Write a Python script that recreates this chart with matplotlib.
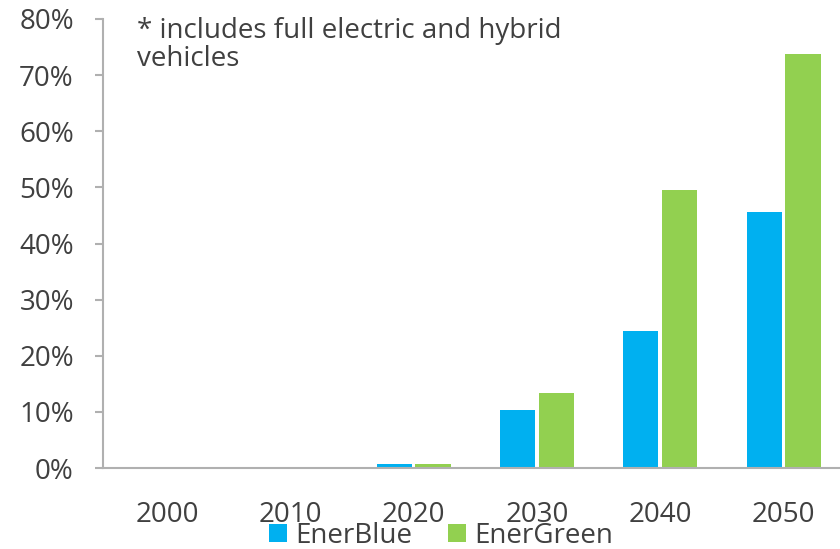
import matplotlib
matplotlib.use("Agg")
import matplotlib.pyplot as plt
import numpy as np

plt.rcParams['font.family'] = ['Open Sans', 'DejaVu Sans']

years = ["2000", "2010", "2020", "2030", "2040", "2050"]
ener_blue = [0.2, 0.2, 0.8, 10.3, 24.5, 45.7]
ener_green = [0.2, 0.2, 0.8, 13.3, 49.6, 73.8]
y_ticks = [0, 10, 20, 30, 40, 50, 60, 70, 80]

BLUE = "#00B0F0"
GREEN = "#92D050"
TEXT = "#404040"
AXIS = "#B0B0B0"
FS = 20

fig = plt.figure(figsize=(8.4, 5.49), dpi=100)
ax = fig.add_axes([0.1226, 0.1475, 1 - 0.1226, 0.9654 - 0.1475])

x = np.arange(len(years))
w = 0.285
gap = 0.015
ax.bar(x - w / 2 - gap, ener_blue, width=w, color=BLUE, label="EnerBlue")
ax.bar(x + w / 2 + gap, ener_green, width=w, color=GREEN, label="EnerGreen")

ax.set_xlim(-0.519, 5.458)
ax.set_ylim(0, 80)
ax.set_yticks(y_ticks)
ax.set_yticklabels([f"{v}%" for v in y_ticks])
ax.set_xticks(x)
ax.set_xticklabels(years)

for s in ("top", "right"):
    ax.spines[s].set_visible(False)
for s in ("left", "bottom"):
    ax.spines[s].set_color(AXIS)
    ax.spines[s].set_linewidth(1.5)

ax.tick_params(axis="y", length=6, width=1.5, color=AXIS, pad=15,
               labelsize=FS, labelcolor=TEXT)
ax.tick_params(axis="x", length=0, pad=24, labelsize=FS, labelcolor=TEXT)

ax.text(0.046, 1.005, "* includes full electric and hybrid\nvehicles",
        transform=ax.transAxes, ha="left", va="top", fontsize=FS,
        color=TEXT, linespacing=1.0)

fig.legend(loc="lower center", bbox_to_anchor=(0.525, -0.047), ncol=2,
           frameon=False, fontsize=FS, handlelength=0.65, handleheight=0.65,
           handletextpad=0.3, columnspacing=1.3, labelcolor=TEXT)

fig.savefig("out.png", dpi=100)
